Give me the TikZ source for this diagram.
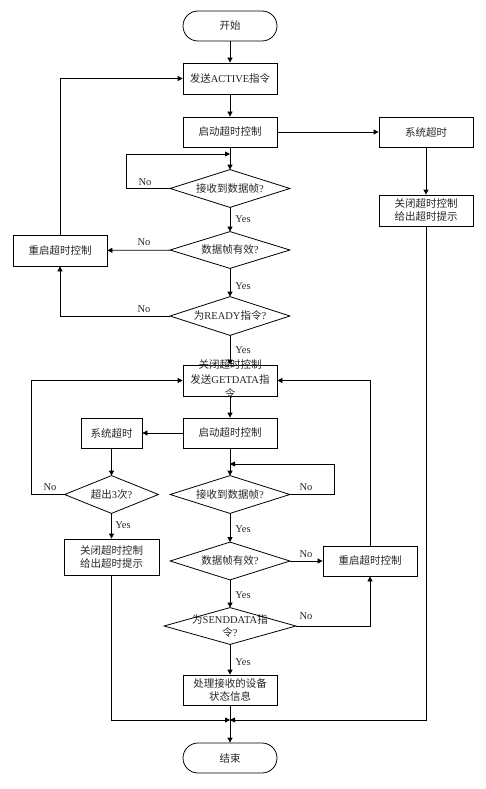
\documentclass[tikz,border=0pt]{standalone}
\usepackage{fontspec}
\setmainfont{Liberation Serif}
\newfontfamily\cjk{Noto Sans CJK SC}
\usetikzlibrary{arrows.meta}
\newcommand\zh[1]{{\cjk #1}}
\newcommand\fs{\fontsize{10.5}{13}\selectfont}
\begin{document}
\begin{tikzpicture}[x=1pt,y=-1pt,
  line width=0.8pt,
  box/.style={draw, rectangle, minimum width=94pt, minimum height=30pt, inner sep=1pt, align=center, font=\fs, text=black!85},
  term/.style={box, rounded corners=15pt},
  dia/.style={rectangle, inner sep=0pt, align=center, font=\fs, text=black!85, minimum width=119pt, minimum height=37pt},
  lab/.style={font=\fs, inner sep=1pt, text=black!85},
  arr/.style={-{Triangle[length=5pt,width=5pt]}}]
\useasboundingbox (0,0) rectangle (485,789);
% upper part
\node[term] (start) at (230,26) {\zh{开始}};
\node[box, minimum height=31pt] (a1) at (230,78.5) {\zh{发送}ACTIVE\zh{指令}};
\node[box] (a2) at (230,132) {\zh{启动超时控制}};
\node[box] (t1) at (426,132) {\zh{系统超时}};
\node[box, minimum height=31pt] (t2) at (426,210.5) {\zh{关闭超时控制}\\\zh{给出超时提示}};
\node[dia] (d1) at (230,188.5) {\zh{接收到数据帧}?};
\node[dia, minimum height=36pt] (d2) at (230,250) {\zh{数据帧有效}?};
\node[box, minimum height=31pt] (r1) at (60,250.5) {\zh{重启超时控制}};
\node[dia, minimum height=38pt] (d3) at (230,316) {\zh{为}READY\zh{指令}?};
% lower part
\node[box, minimum height=31pt] (g) at (230,380.5) {};
\node[font=\fontsize{10.5}{14.5}\selectfont, align=center, inner sep=0pt, text=black!85] (gt) at (230,379.5) {\zh{关闭超时控制}\\\zh{发送}GETDATA\zh{指}\\\zh{令}};
\node[box] (b2) at (230,433) {\zh{启动超时控制}};
\node[box, minimum width=61pt] (t3) at (111.5,433) {\zh{系统超时}};
\node[dia, minimum width=93pt] (d4) at (111.5,494.5) {\zh{超出}3\zh{次}?};
\node[box, minimum width=95pt, minimum height=36pt] (t4) at (111.5,557) {\zh{关闭超时控制}\\\zh{给出超时提示}};
\node[dia] (d5) at (230,494.5) {\zh{接收到数据帧}?};
\node[dia] (d6) at (230,561) {\zh{数据帧有效}?};
\node[box] (r2) at (370,561) {\zh{重启超时控制}};
\node[dia, minimum width=131pt, minimum height=36pt] (d7) at (230,626) {\zh{为}SENDDATA\zh{指}\\\zh{令}?};
\node[box] (p) at (230,690) {\zh{处理接收的设备}\\\zh{状态信息}};
\node[term] (end) at (230,758) {\zh{结束}};
% diamond outlines
\foreach \n in {d1,d2,d3,d4,d5,d6,d7}
  \draw (\n.north) -- (\n.east) -- (\n.south) -- (\n.west) -- cycle;
% helper coordinates
\coordinate (l1) at (230,154);
\coordinate (l2) at (230,464);
\coordinate (m) at (230,720);
% connectors upper
\draw[arr] (start) -- (a1);
\draw[arr] (a1) -- (a2);
\draw[arr] (a2) -- (t1);
\draw[arr] (t1) -- (t2);
\draw[arr] (a2) -- (d1);
\draw[arr] (d1.west) -- ++(-44,0) |- (l1);
\node[lab] at (145,182) {No};
\draw[arr] (d1) -- (d2);
\node[lab, anchor=west] at (234,219) {Yes};
\draw[arr] (d2) -- (r1);
\node[lab] at (144,242) {No};
\draw[arr] (r1.north) |- (a1.west);
\draw[arr] (d2) -- (d3);
\node[lab, anchor=west] at (234,286) {Yes};
\draw[arr] (d3.west) -| (r1.south);
\node[lab] at (144,309) {No};
\draw[arr] (d3) -- (g);
\node[lab, anchor=west] at (234,350) {Yes};
% connectors lower
\draw[arr] (g) -- (b2);
\draw[arr] (b2) -- (t3);
\draw[arr] (t3) -- (d4);
\draw[arr] (d4.west) -- ++(-33,0) |- (g.west);
\node[lab] at (50,487) {No};
\draw[arr] (d4) -- (t4);
\node[lab, anchor=west] at (114,525) {Yes};
\draw[arr] (b2) -- (d5);
\draw[arr] (d5.east) -- ++(44,0) |- (l2);
\node[lab] at (306,487) {No};
\draw[arr] (d5) -- (d6);
\node[lab, anchor=west] at (234,529) {Yes};
\draw[arr] (d6) -- (r2);
\node[lab] at (306,554) {No};
\draw[arr] (r2.north) |- (g.east);
\draw[arr] (d6) -- (d7);
\node[lab, anchor=west] at (234,595) {Yes};
\draw[arr] (d7.east) -| (r2.south);
\node[lab] at (306,616) {No};
\draw[arr] (d7) -- (p);
\node[lab, anchor=west] at (234,662) {Yes};
\draw (p) -- (m);
\draw[arr] (t4.south) |- (m);
\draw[arr] (t2.south) |- (m);
\draw[arr] (m) -- (end);
\end{tikzpicture}
\end{document}
